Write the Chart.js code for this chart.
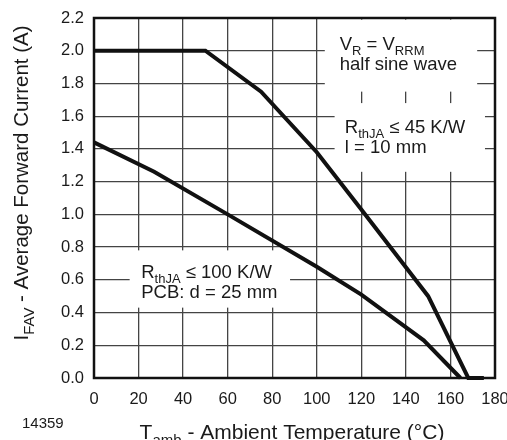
<!DOCTYPE html>
<html>
<head>
<meta charset="utf-8">
<script src="https://cdn.jsdelivr.net/npm/chart.js@4"></script>
<style>
  html, body { margin: 0; padding: 0; background: #fff; }
</style>
</head>
<body>
<canvas id="chart" width="507" height="440"></canvas>
<script>
// Derating curves, values
const tempRth45 = [0, 50, 75, 100, 120, 150, 168, 175];
const currentRth45 = [2.0, 2.0, 1.75, 1.38, 1.03, 0.5, 0.0, 0.0];
const tempRth100 = [0, 27, 60, 100, 120, 148, 164.5];
const currentRth100 = [1.44, 1.26, 1.0, 0.68, 0.51, 0.23, 0.0];

const xTickValues = [0, 20, 40, 60, 80, 100, 120, 140, 160, 180];
const yTickLabels = ['0.0', '0.2', '0.4', '0.6', '0.8', '1.0', '1.2', '1.4', '1.6', '1.8', '2.0', '2.2'];

const FONT = "'Liberation Sans', Arial, Helvetica, sans-serif";
Chart.defaults.font.family = FONT;
Chart.defaults.color = '#1a1a1a';

function toPoints(xs, ys) {
    return xs.map((x, i) => ({ x: x, y: ys[i] }));
}

// text with subscripts: parts = [[text, isSub], ...]
function drawRich(ctx, parts, x, y, size) {
    let cx = x;
    parts.forEach(([txt, sub]) => {
        ctx.font = (sub ? Math.round(size * 0.72) : size) + 'px ' + FONT;
        ctx.fillText(txt, cx, sub ? y + size * 0.28 : y);
        cx += ctx.measureText(txt).width;
    });
    return cx - x;
}

function richWidth(ctx, parts, size) {
    let w = 0;
    parts.forEach(([txt, sub]) => {
        ctx.font = (sub ? Math.round(size * 0.72) : size) + 'px ' + FONT;
        w += ctx.measureText(txt).width;
    });
    return w;
}

// white label boxes (data units) that hide the grid
const boxes = [
    { x0: 103.6, x1: 172, y0: 1.75, y1: 2.19 },
    { x0: 108, x1: 175.5, y0: 1.26, y1: 1.68 },
    { x0: 16, x1: 88, y0: 0.43, y1: 0.78 }
];

const notes = [
    { x: 110.3, y: 2.005, parts: [['V', 0], ['R', 1], [' = V', 0], ['RRM', 1]] },
    { x: 110.3, y: 1.883, parts: [['half sine wave', 0]] },
    { x: 112.6, y: 1.498, parts: [['R', 0], ['thJA', 1], [' \u2264 45 K/W', 0]] },
    { x: 112.6, y: 1.375, parts: [['l = 10 mm', 0]] },
    { x: 21.2, y: 0.611, parts: [['R', 0], ['thJA', 1], [' \u2264 100 K/W', 0]] },
    { x: 21.2, y: 0.489, parts: [['PCB: d = 25 mm', 0]] }
];

const decorPlugin = {
    id: 'decor',
    beforeDatasetsDraw(chart) {
        const { ctx, scales: { x, y } } = chart;
        ctx.save();
        ctx.fillStyle = '#fff';
        boxes.forEach(b => {
            const px0 = x.getPixelForValue(b.x0);
            const px1 = x.getPixelForValue(b.x1);
            const py0 = y.getPixelForValue(b.y1);
            const py1 = y.getPixelForValue(b.y0);
            ctx.fillRect(px0, py0, px1 - px0, py1 - py0);
        });
        ctx.restore();
    },
    afterDatasetsDraw(chart) {
        const { ctx, chartArea: a, scales: { x, y } } = chart;
        ctx.save();
        ctx.strokeStyle = '#111';
        ctx.lineWidth = 2.5;
        ctx.strokeRect(a.left, a.top, a.right - a.left, a.bottom - a.top);

        ctx.fillStyle = '#1a1a1a';
        ctx.textBaseline = 'alphabetic';
        ctx.textAlign = 'left';
        notes.forEach(n => {
            drawRich(ctx, n.parts, x.getPixelForValue(n.x), y.getPixelForValue(n.y), 18.5);
        });
        ctx.restore();
    },
    afterDraw(chart) {
        const { ctx, chartArea: a } = chart;
        ctx.save();
        ctx.fillStyle = '#1a1a1a';
        ctx.textAlign = 'left';
        ctx.textBaseline = 'alphabetic';

        // x axis title
        const xParts = [['T', 0], ['amb', 1], [' - Ambient Temperature (\u00b0C)', 0]];
        const xw = richWidth(ctx, xParts, 21);
        drawRich(ctx, xParts, 292 - xw / 2, 439, 21);

        // y axis title
        const yParts = [['I', 0], ['FAV', 1], [' - Average Forward Current (A)', 0]];
        const yw = richWidth(ctx, yParts, 20.5);
        ctx.translate(28, 183);
        ctx.rotate(-Math.PI / 2);
        drawRich(ctx, yParts, -yw / 2, 0, 20.5);
        ctx.restore();

        // figure number
        ctx.save();
        ctx.font = '15px ' + FONT;
        ctx.fillStyle = '#1a1a1a';
        ctx.fillText('14359', 22, 428);
        ctx.restore();
    }
};

new Chart(document.getElementById('chart'), {
    type: 'line',
    data: {
        datasets: [
            {
                data: toPoints(tempRth45, currentRth45),
                borderColor: '#111',
                borderWidth: 4,
                pointRadius: 0,
                tension: 0,
                clip: false
            },
            {
                data: toPoints(tempRth100, currentRth100),
                borderColor: '#111',
                borderWidth: 4,
                pointRadius: 0,
                tension: 0,
                clip: false
            }
        ]
    },
    options: {
        responsive: false,
        animation: false,
        layout: { padding: { left: 0, top: 18, right: 0, bottom: 0 } },
        plugins: {
            legend: { display: false },
            tooltip: { enabled: false }
        },
        scales: {
            x: {
                type: 'linear',
                min: 0,
                max: 180,
                afterBuildTicks: s => { s.ticks = xTickValues.map(v => ({ value: v })); },
                afterFit: s => { s.height = 62; s.paddingRight = 12; },
                border: { display: false },
                grid: { color: '#444', lineWidth: 1.3, drawTicks: false },
                ticks: {
                    padding: 12,
                    font: { size: 16.5 },
                    maxRotation: 0,
                    callback: v => String(v)
                }
            },
            y: {
                min: 0,
                max: 2.2,
                afterBuildTicks: s => { s.ticks = yTickLabels.map(t => ({ value: parseFloat(t) })); },
                afterFit: s => { s.width = 94; s.paddingTop = 0; },
                border: { display: false },
                grid: { color: '#444', lineWidth: 1.3, drawTicks: false },
                ticks: {
                    padding: 10,
                    font: { size: 16.5 },
                    callback: v => yTickLabels.find(t => parseFloat(t) === v) || v.toFixed(1)
                }
            }
        }
    },
    plugins: [decorPlugin]
});
</script>
</body>
</html>
